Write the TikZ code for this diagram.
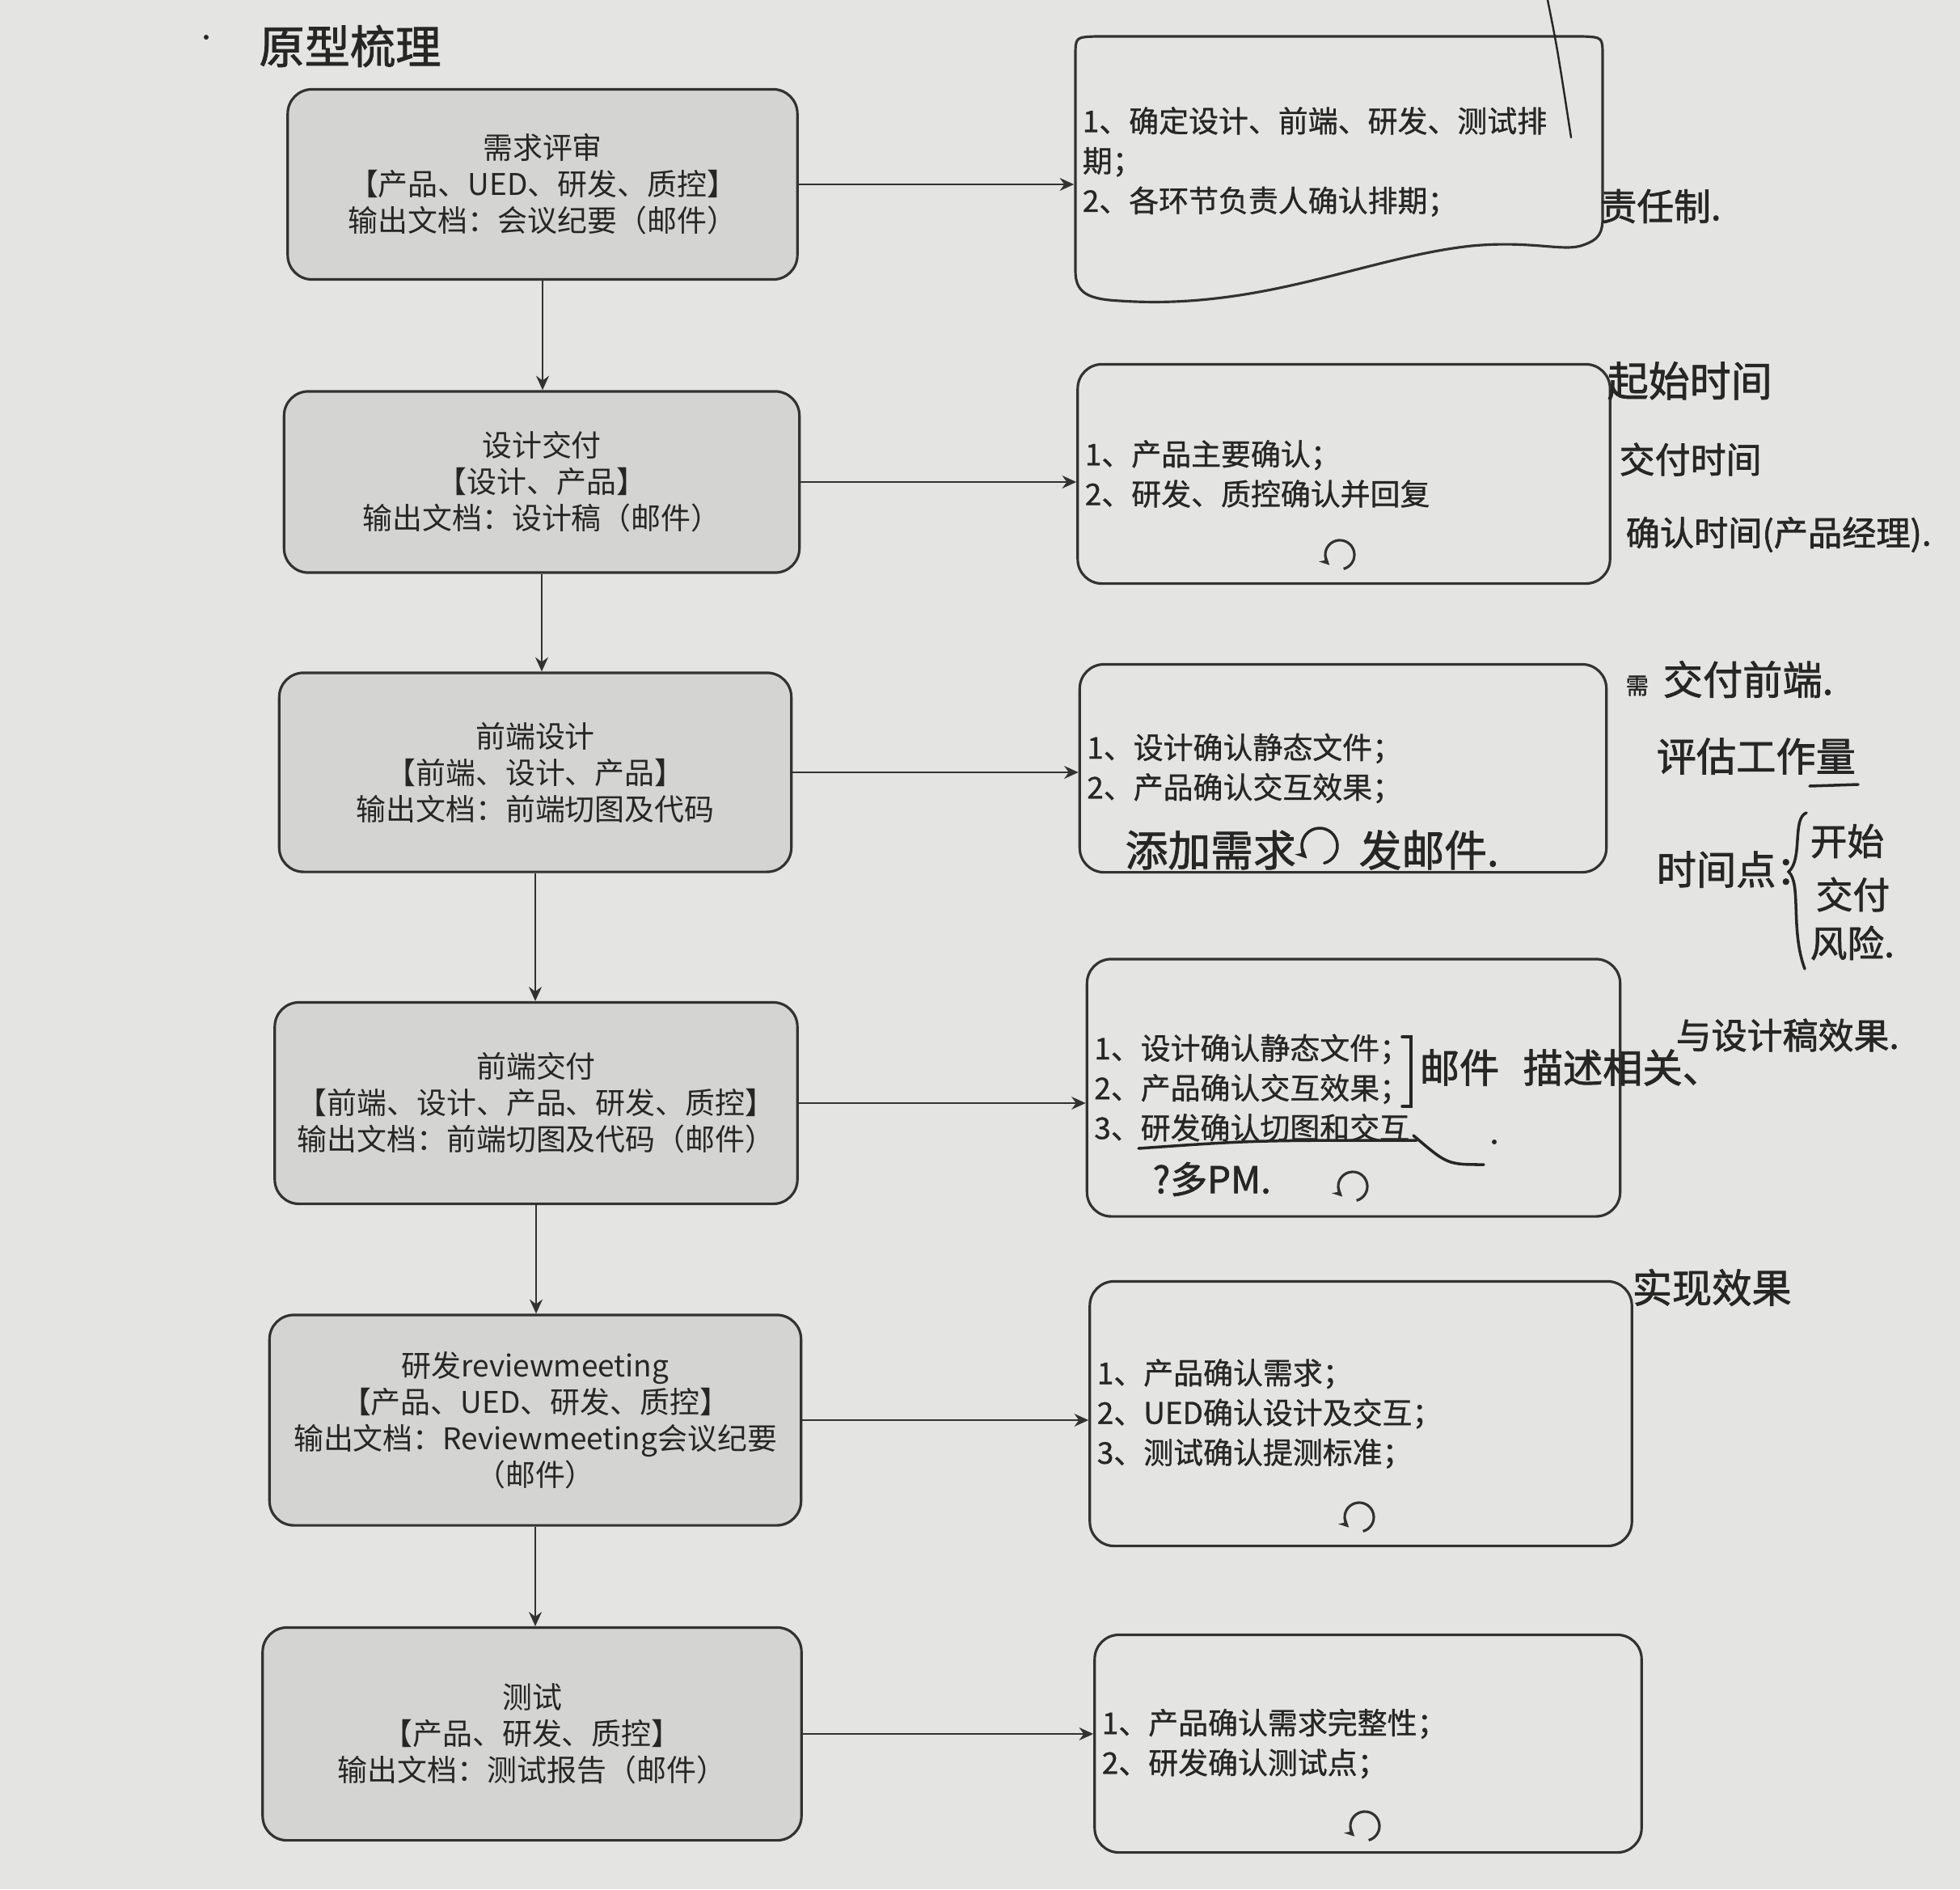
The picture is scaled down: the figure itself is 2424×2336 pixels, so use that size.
\documentclass[tikz,border=0pt]{standalone}
\usepackage{fontspec}
\usetikzlibrary{arrows.meta}
\newfontfamily\cjk{Noto Sans CJK SC}
\newfontfamily\cjkb[FakeBold=0.8]{Noto Sans CJK SC}
\newfontfamily\hand[FakeBold=1.5]{Noto Sans CJK SC}
\definecolor{paper}{RGB}{228,228,226}
\definecolor{lfill}{RGB}{212,212,210}
\definecolor{ink}{RGB}{50,50,50}
\definecolor{handink}{RGB}{38,38,38}
\tikzset{
  lbox/.style={draw=ink, line width=0.9pt, rounded corners=0.3cm, fill=lfill, align=center,
    font=\cjk\fontsize{10.5}{12.8}\selectfont, inner sep=0pt, text=black!85},
  rbox/.style={draw=ink, line width=0.9pt, rounded corners=0.3cm, align=left,
    font=\cjkb\fontsize{10.5}{14}\selectfont, inner xsep=0.09cm, inner ysep=0pt, text=black!85},
  arr/.style={draw=ink, line width=0.8pt, -{Stealth[length=5pt,width=4.5pt]}},
  hw/.style={text=handink, font=\hand\fontsize{14}{16}\selectfont, inner sep=0pt},
  hwline/.style={draw=handink, line width=1pt, line cap=round},
  loopsym/.style={draw=ink, line width=0.9pt, -{Stealth[length=3.5pt,width=3.5pt]}}
}
\begin{document}
\begin{tikzpicture}[x=0.01cm, y=-0.01cm]
\fill[paper] (0,0) rectangle (2424,2336);
\useasboundingbox (0,0) rectangle (2424,2336);

% left process boxes
\node[lbox, minimum width=6.30cm, minimum height=2.35cm] (L1) at (671,228) {需求评审\\【产品、UED、研发、质控】\\输出文档：会议纪要（邮件）};
\node[lbox, minimum width=6.37cm, minimum height=2.24cm] (L2) at (670,596) {设计交付\\【设计、产品】\\输出文档：设计稿（邮件）};
\node[lbox, minimum width=6.33cm, minimum height=2.46cm] (L3) at (662,955) {前端设计\\【前端、设计、产品】\\输出文档：前端切图及代码};
\node[lbox, minimum width=6.46cm, minimum height=2.49cm] (L4) at (663,1364) {前端交付\\【前端、设计、产品、研发、质控】\\输出文档：前端切图及代码（邮件）};
\node[lbox, minimum width=6.57cm, minimum height=2.60cm] (L5) at (662,1756) {研发reviewmeeting\\【产品、UED、研发、质控】\\输出文档：Reviewmeeting会议纪要\\（邮件）};
\node[lbox, minimum width=6.66cm, minimum height=2.63cm] (L6) at (658,2144) {测试\\【产品、研发、质控】\\输出文档：测试报告（邮件）};

% right boxes
\node[rbox, draw=none, rounded corners=0pt, text width=6.34cm, minimum height=3.26cm] (R1) at (1656,200)
  {1、确定设计、前端、研发、测试排\\期；\\2、各环节负责人确认排期；};
\draw[ink, line width=0.9pt]
  (1330,70) -- (1330,335) .. controls (1330,362) and (1345,370) .. (1385,372)
  .. controls (1560,384) and (1690,318) .. (1820,304)
  .. controls (1895,297) and (1935,312) .. (1958,303)
  .. controls (1978,296) and (1982,288) .. (1982,268)
  -- (1982,70) .. controls (1982,46) .. (1957,45)
  -- (1355,45) .. controls (1330,46) .. (1330,70) -- cycle;
\node[rbox, text width=6.40cm, minimum height=2.71cm] (R2) at (1662,586) {1、产品主要确认；\\2、研发、质控确认并回复};
\node[rbox, text width=6.33cm, minimum height=2.57cm] (R3) at (1661,950) {1、设计确认静态文件；\\2、产品确认交互效果；};
\node[rbox, text width=6.41cm, minimum height=3.18cm] (R4) at (1674,1345) {1、设计确认静态文件；\\2、产品确认交互效果；\\3、研发确认切图和交互};
\node[rbox, text width=6.52cm, minimum height=3.27cm] (R5) at (1683,1748) {1、产品确认需求；\\2、UED确认设计及交互；\\3、测试确认提测标准；};
\node[rbox, text width=6.58cm, minimum height=2.69cm] (R6) at (1692,2156) {1、产品确认需求完整性；\\2、研发确认测试点；};

% loop symbols
\foreach \px/\py in {1657/686, 1673/1467, 1681/1876, 1688/2258}{
  \begin{scope}[shift={(\px,\py)}, x=1cm, y=1cm]
    \draw[loopsym] (-75:0.18) arc[start angle=-75, end angle=225, radius=0.18];
  \end{scope}
}

% vertical arrows
\draw[arr] (L1.south) -- (L1.south |- L2.north);
\draw[arr] (L2.south) -- (L2.south |- L3.north);
\draw[arr] (L3.south) -- (L3.south |- L4.north);
\draw[arr] (L4.south) -- (L4.south |- L5.north);
\draw[arr] (L5.south) -- (L5.south |- L6.north);

% horizontal arrows
\draw[arr] (L1.east) -- (L1.east -| R1.west);
\draw[arr] (L2.east) -- (L2.east -| R2.west);
\draw[arr] (L3.east) -- (L3.east -| R3.west);
\draw[arr] (L4.east) -- (L4.east -| R4.west);
\draw[arr] (L5.east) -- (L5.east -| R5.west);
\draw[arr] (L6.east) -- (L6.east -| R6.west);

% handwritten notes
\node[hw, font=\hand\fontsize{16}{18}\selectfont] (title) at (433,57) {原型梳理};
\fill[handink] (255,46) circle (3);
\draw[hwline, line width=0.7pt] (1914,0) .. controls (1926,60) .. (1943,170);
\node[hw, font=\hand\fontsize{13}{15}\selectfont, anchor=west] (zr) at (1978,255) {责任制.};

\node[hw, font=\hand\fontsize{14.5}{16}\selectfont, anchor=west] (t1) at (1987,471) {起始时间};
\node[hw, font=\hand\fontsize{12.5}{15}\selectfont, anchor=west] (t2) at (2002,568) {交付时间};
\node[hw, font=\hand\fontsize{12}{15}\selectfont, anchor=west] (t3) at (2010,661) {确认时间(产品经理).};

\node[hw, font=\hand\fontsize{8}{10}\selectfont, anchor=west] (x0) at (2010,848) {需};
\node[hw, anchor=west] (f1) at (2056,840) {交付前端.};
\node[hw, anchor=west] (f2) at (2048,935) {评估工作量};
\draw[hwline] (2238,972) -- (2298,970);
\node[hw, anchor=west] (f3) at (2048,1075) {时间点：};
\draw[hwline] (2234,1005) .. controls (2216,1012) and (2230,1062) .. (2212,1078)
  .. controls (2228,1092) and (2214,1150) .. (2232,1198);
\node[hw, font=\hand\fontsize{13}{15}\selectfont, anchor=west] (f4) at (2238,1040) {开始};
\node[hw, font=\hand\fontsize{13}{15}\selectfont, anchor=west] (f5) at (2245,1106) {交付};
\node[hw, font=\hand\fontsize{13}{15}\selectfont, anchor=west] (f6) at (2238,1166) {风险.};

\node[hw, font=\hand\fontsize{15}{17}\selectfont, anchor=west] (a1) at (1391,1051) {添加需求};
\begin{scope}[shift={(1632,1046)}, x=1cm, y=1cm]
  \draw[hwline, -{Stealth[length=4pt,width=4pt]}] (-75:0.22) arc[start angle=-75, end angle=225, radius=0.22];
\end{scope}
\node[hw, font=\hand\fontsize{15}{17}\selectfont, anchor=west] (a2) at (1680,1051) {发邮件.};

\draw[hwline] (1734,1282) -- (1745,1282) -- (1745,1368) -- (1734,1368);
\node[hw, anchor=west] (m1) at (1755,1320) {邮件\hspace{0.6em}描述相关、};
\node[hw, font=\hand\fontsize{12.5}{15}\selectfont, anchor=west] (m2) at (2072,1280) {与设计稿效果.};
\draw[hwline] (1408,1420) .. controls (1550,1410) .. (1752,1410);
\draw[hwline] (1748,1404) .. controls (1790,1440) .. (1835,1440);
\fill[handink] (1848,1412) circle (3);
\node[hw, font=\hand\fontsize{13}{15}\selectfont, anchor=west] (pm) at (1425,1458) {?多PM.};

\node[hw, anchor=west] (s1) at (2018,1592) {实现效果};
\end{tikzpicture}
\end{document}
